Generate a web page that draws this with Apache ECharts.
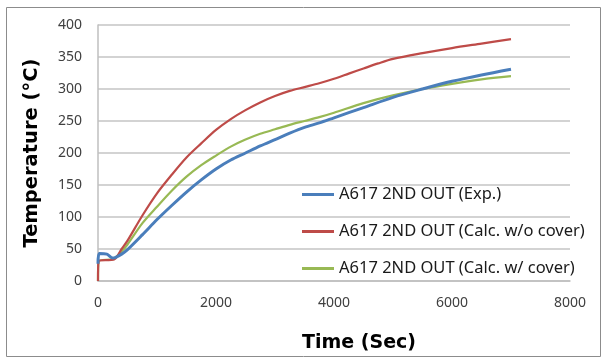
<!DOCTYPE html>
<html>
<head>
<meta charset="utf-8">
<script src="https://cdn.jsdelivr.net/npm/echarts@6/dist/echarts.min.js"></script>
<style>html,body{margin:0;padding:0;background:#fff;}#c{width:603px;height:358px;}</style>
</head>
<body>
<div id="c"></div>
<script>
// Series names
var seriesNames = ['A617 2ND OUT (Exp.)', 'A617 2ND OUT (Calc. w/o cover)', 'A617 2ND OUT (Calc. w/ cover)'];
// Exp. (blue)
var expTime = [0, 20, 150, 250, 300, 400, 500, 750, 1000, 1250, 1500, 1750, 2000, 2250, 2500, 2750, 3000, 3250, 3500, 3750, 4000, 4500, 5000, 5500, 6000, 6500, 7000];
var expTemp = [27, 43, 42, 36, 37, 42, 49, 72, 96, 118, 139, 158, 175, 189, 200, 211, 221, 231, 240, 247, 255, 271, 287, 300, 312, 322, 331];
// Calc. w/o cover (red)
var woTime = [0, 10, 280, 400, 500, 750, 1000, 1250, 1500, 1750, 2000, 2250, 2500, 2750, 3000, 3250, 3500, 3750, 4000, 4250, 4500, 4750, 5000, 5500, 6000, 6500, 7000];
var woTemp = [0, 31, 34, 50, 63, 102, 137, 166, 193, 215, 236, 253, 267, 279, 289, 297, 303, 309, 316, 324, 332, 340, 347, 356, 364, 371, 378];
// Calc. w/ cover (green)
var wTime = [0, 10, 250, 300, 400, 500, 750, 1000, 1250, 1500, 1750, 2000, 2250, 2500, 2750, 3000, 3250, 3500, 3750, 4000, 4500, 5000, 5500, 6000, 6500, 7000];
var wTemp = [0, 31, 34, 37, 46, 57, 90, 116, 141, 163, 181, 196, 210, 221, 230, 237, 244, 250, 256, 263, 278, 290, 300, 308, 315, 320];
// Axis ticks
var xTicks = [0, 2000, 4000, 6000, 8000];
var yTicks = [0, 50, 100, 150, 200, 250, 300, 350, 400];

function pairs(t, v) { return t.map(function (x, i) { return [x, v[i]]; }); }

var colors = ['#4A7EBB', '#BE4B48', '#98B954'];
var widths = [3, 2.2, 2.2];
var data = [pairs(expTime, expTemp), pairs(woTime, woTemp), pairs(wTime, wTemp)];

var chart = echarts.init(document.getElementById('c'), null, { renderer: 'canvas' });
var fontFam = '"Noto Sans", "Open Sans", sans-serif';
var titleFam = '"DejaVu Sans", sans-serif';
chart.setOption({
  animation: false,
  backgroundColor: '#fff',
  graphic: [{
    type: 'rect', shape: { x: 6.5, y: 7.5, width: 594, height: 349 },
    style: { fill: 'none', stroke: '#8c8c8c', lineWidth: 1 }, z: -1
  }],
  grid: { left: 98, right: 33, top: 25, bottom: 77 },
  xAxis: {
    type: 'value', min: xTicks[0], max: xTicks[xTicks.length - 1], interval: 2000,
    name: 'Time (Sec)', nameLocation: 'middle', nameGap: 53,
    nameTextStyle: { fontSize: 19, fontWeight: 'bold', color: '#000', fontFamily: titleFam, padding: [0, 0, 0, 50] },
    axisLine: { show: true, lineStyle: { color: '#bfbfbf', width: 1.5 } },
    axisTick: { show: false },
    splitLine: { show: false },
    axisLabel: { fontSize: 14, color: '#404040', margin: 15, fontFamily: fontFam,
      formatter: function (v) { return String(v); } }
  },
  yAxis: {
    type: 'value', min: yTicks[0], max: yTicks[yTicks.length - 1], interval: 50,
    name: 'Temperature (°C)', nameLocation: 'middle', nameGap: 56,
    nameTextStyle: { fontSize: 19.5, fontWeight: 'bold', color: '#000', fontFamily: titleFam },
    axisLine: { show: true, lineStyle: { color: '#bfbfbf', width: 1.5 } },
    axisTick: { show: false },
    splitLine: { show: true, lineStyle: { color: '#c4c4c4', width: 1.5 } },
    axisLabel: { fontSize: 14, color: '#404040', margin: 16, fontFamily: fontFam }
  },
  legend: {
    orient: 'vertical', left: 297, top: 181, itemWidth: 32, itemHeight: 3, itemGap: 20,
    icon: 'rect',
    data: seriesNames.map(function (n, i) { return { name: n, itemStyle: { color: colors[i] } }; }),
    textStyle: { fontSize: 16.5, lineHeight: 16, color: '#1a1a1a', fontFamily: fontFam }
  },
  series: seriesNames.map(function (n, i) {
    return {
      name: n, type: 'line', data: data[i], symbol: 'none', showSymbol: false,
      smooth: 0.3,
      lineStyle: { color: colors[i], width: widths[i] }, itemStyle: { color: colors[i] },
      z: i === 0 ? 4 : (i === 1 ? 3 : 2)
    };
  })
});
</script>
</body>
</html>
